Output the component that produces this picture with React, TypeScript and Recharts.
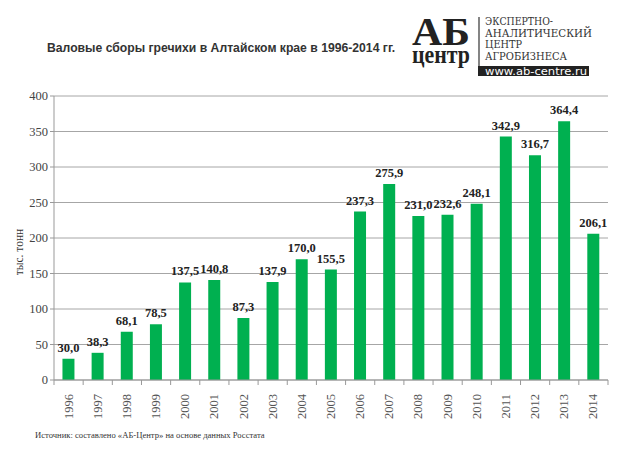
import { BarChart, Bar, XAxis, YAxis, CartesianGrid, LabelList } from 'recharts'

const years = ['1996', '1997', '1998', '1999', '2000', '2001', '2002', '2003', '2004', '2005', '2006', '2007', '2008', '2009', '2010', '2011', '2012', '2013', '2014']
const harvest = [30.0, 38.3, 68.1, 78.5, 137.5, 140.8, 87.3, 137.9, 170.0, 155.5, 237.3, 275.9, 231.0, 232.6, 248.1, 342.9, 316.7, 364.4, 206.1]
const yTicks = [0, 50, 100, 150, 200, 250, 300, 350, 400]

const data = years.map((y, i) => ({ year: y, value: harvest[i] }))

const BAND = 554 / years.length
const SERIF = 'Liberation Serif, Times New Roman, serif'

function YearTick(props: any) {
  const { x, y, payload } = props
  return (
    <g>
      <line x1={x - BAND / 2} y1={y - 8} x2={x - BAND / 2} y2={y - 3} stroke="#999" />
      {payload.index === years.length - 1 && (
        <line x1={x + BAND / 2} y1={y - 8} x2={x + BAND / 2} y2={y - 3} stroke="#999" />
      )}
      <text
        x={x + 4}
        y={y + 6}
        transform={`rotate(-90 ${x + 4} ${y + 6})`}
        textAnchor="end"
        fontFamily={SERIF}
        fontSize={12.5}
        fill="#555"
      >
        {payload.value}
      </text>
    </g>
  )
}

function UnitLabel(props: any) {
  const { viewBox } = props
  const cx = 23
  const cy = viewBox.y + viewBox.height / 2 + 14
  return (
    <text x={cx} y={cy} transform={`rotate(-90 ${cx} ${cy})`} textAnchor="middle" fontFamily={SERIF} fontSize={11.5} fill="#333">
      тыс. тонн
    </text>
  )
}

function Logo() {
  return (
    <svg width={218} height={90} style={{ position: 'absolute', left: 400, top: 0 }}>
      <text fontFamily={SERIF} fontWeight="bold" fill="#222">
        <tspan x={12} y={45} fontSize={41} textLength={58} lengthAdjust="spacingAndGlyphs">АБ</tspan>
        <tspan x={12} y={63} fontSize={25} textLength={58} lengthAdjust="spacingAndGlyphs">центр</tspan>
      </text>
      <line x1={79} y1={17} x2={79} y2={75} stroke="#333" strokeWidth={1.2} />
      <text fontFamily="DejaVu Serif, serif" fontSize={10.5} fill="#333">
        <tspan x={85} y={25} textLength={68} lengthAdjust="spacingAndGlyphs">ЭКСПЕРТНО-</tspan>
        <tspan x={85} y={36.5} textLength={107} lengthAdjust="spacingAndGlyphs">АНАЛИТИЧЕСКИЙ</tspan>
        <tspan x={85} y={48} textLength={37} lengthAdjust="spacingAndGlyphs">ЦЕНТР</tspan>
        <tspan x={85} y={59.5} textLength={82} lengthAdjust="spacingAndGlyphs">АГРОБИЗНЕСА</tspan>
      </text>
      <rect x={78} y={66} width={111} height={10} fill="#222" />
      <text x={85} y={74.5} fontFamily="DejaVu Sans, sans-serif" fontSize={10} fill="#fff" textLength={102} lengthAdjust="spacingAndGlyphs">www.ab-centre.ru</text>
    </svg>
  )
}

export default function App() {
  return (
    <div style={{ position: 'absolute', left: 0, top: 0, width: 618, height: 463, background: '#fff' }}>
      <div
        style={{
          position: 'absolute', left: 47, top: 41, fontFamily: 'Liberation Sans, Arial, sans-serif',
          fontWeight: 'bold', fontSize: 12.2, color: '#333', whiteSpace: 'nowrap',
        }}
      >
        Валовые сборы гречихи в Алтайском крае в 1996-2014 гг.
      </div>

      <Logo />

      <BarChart width={618} height={463} data={data} margin={{ top: 96, right: 10, bottom: 33, left: 24 }} barCategoryGap="29%">
        <CartesianGrid vertical={false} stroke="#a6a6a6" />
        <XAxis
          dataKey="year"
          tick={<YearTick />}
          tickLine={false}
          axisLine={{ stroke: '#999' }}
          interval={0}
          height={50}
        />
        <YAxis
          domain={[0, 400]}
          ticks={yTicks}
          width={30}
          tick={{ fontFamily: SERIF, fontSize: 12.5, fill: '#444' }}
          tickSize={4}
          tickLine={{ stroke: '#999' }}
          axisLine={{ stroke: '#999' }}
          label={<UnitLabel />}
        />
        <Bar dataKey="value" fill="#00b050" isAnimationActive={false}>
          <LabelList
            dataKey="value"
            position="top"
            offset={7}
            fontFamily={SERIF}
            fontWeight="bold"
            fontSize={12.5}
            fill="#222"
            formatter={(v: any) => Number(v).toFixed(1).replace('.', ',')}
            style={{ fontFamily: SERIF, fontWeight: 'bold', fontSize: 12.5, fill: '#222' }}
          />
        </Bar>
      </BarChart>

      <div style={{ position: 'absolute', left: 35, top: 430, fontFamily: SERIF, fontSize: 8.6, color: '#333', whiteSpace: 'nowrap' }}>
        Источник: составлено «АБ-Центр» на основе данных Росстата
      </div>
    </div>
  )
}
